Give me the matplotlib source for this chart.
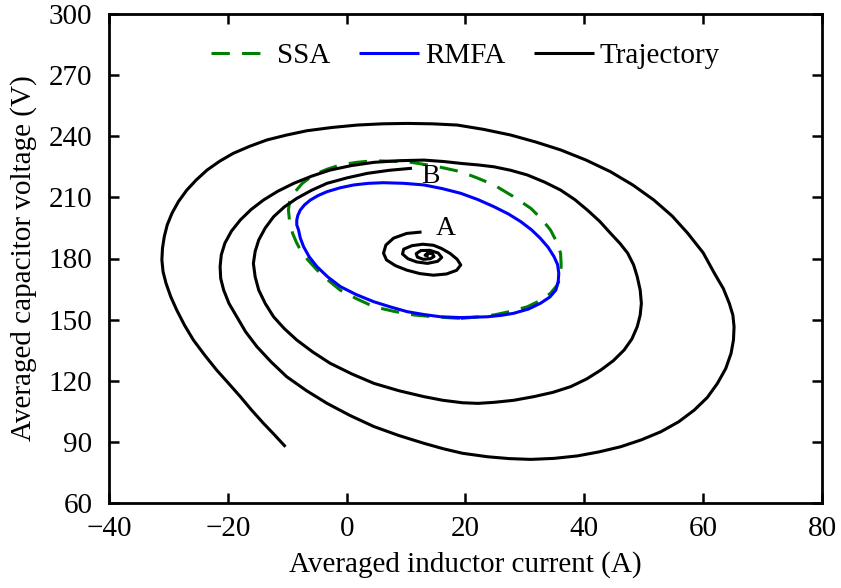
import numpy as np
import matplotlib as mpl
import matplotlib.pyplot as plt

# Trajectory: starts at lower left (-10, 88), spirals inward and ends at point B
traj_x = [-10.3, -12.1, -14.0, -16.0, -17.9, -19.9, -21.9, -23.9, -25.8, -27.3,
          -28.6, -29.6, -30.4, -30.9, -31.1, -31.0, -30.7, -30.2, -29.4, -28.3,
          -26.9, -25.3, -23.5, -21.4, -19.1, -16.3, -13.4, -10.1, -6.7, -2.5,
          1.8, 6.0, 10.2, 14.4, 18.6, 23.0, 27.6, 31.8, 36.0, 40.3,
          44.4, 48.2, 51.7, 54.8, 57.4, 60.0, 61.9, 63.4, 64.4, 65.0,
          65.2, 65.1, 64.7, 63.8, 62.4, 60.7, 58.5, 55.9, 52.9, 49.6,
          46.1, 42.5, 38.8, 34.9, 31.0, 27.3, 23.7, 19.5, 16.3, 13.0,
          8.8, 4.6, 0.6, -3.3, -6.8, -10.1, -12.7, -15.1, -17.0, -18.5,
          -19.8, -20.7, -21.2, -21.3, -21.1, -20.5, -19.4, -17.9, -16.1, -14.0,
          -11.6, -8.9, -5.9, -2.8, 0.8, 4.6, 8.8, 13.0, 16.3, 19.5,
          22.2, 24.8, 27.6, 30.4, 33.3, 36.0, 38.4, 40.5, 42.6, 44.4,
          46.0, 47.3, 48.3, 48.9, 49.4, 49.6, 49.4, 48.9, 48.0, 46.7,
          44.9, 42.8, 40.4, 37.7, 34.7, 31.5, 28.1, 24.8, 22.1, 19.5,
          16.2, 13.0, 8.8, 4.6, 0.9, -2.8, -5.7, -8.4, -10.5, -12.3,
          -13.7, -14.8, -15.4, -15.7, -15.4, -14.8, -13.7, -12.3, -10.5, -8.4,
          -5.9, -3.3, 0.1, 3.5, 7.2, 11.0]
traj_y = [87.6, 93.3, 99.1, 105.6, 112.2, 118.8, 125.3, 132.6, 140.0, 147.3,
          154.7, 161.2, 167.8, 173.5, 179.3, 185.0, 190.7, 196.5, 202.2, 208.0,
          213.6, 218.6, 223.4, 227.7, 231.6, 235.1, 238.2, 240.6, 242.7, 244.3,
          245.5, 246.1, 246.3, 246.1, 245.5, 243.4, 240.6, 237.2, 233.3, 228.3,
          222.6, 216.0, 208.7, 200.8, 192.4, 182.8, 172.7, 165.2, 158.0, 152.2,
          146.5, 140.0, 133.5, 126.0, 118.7, 111.8, 105.6, 99.9, 95.0, 91.0,
          87.6, 85.1, 83.1, 81.9, 81.4, 81.8, 82.7, 84.4, 86.6, 89.3,
          93.1, 97.5, 102.9, 108.9, 115.2, 122.0, 129.2, 136.7, 144.0, 151.4,
          157.9, 164.5, 170.2, 176.0, 181.8, 187.5, 193.4, 198.9, 204.0, 208.7,
          213.0, 216.9, 220.4, 223.4, 225.6, 227.2, 228.0, 228.3, 227.6, 226.6,
          225.9, 225.0, 223.3, 221.0, 217.5, 213.6, 208.9, 203.8, 198.2, 192.4,
          187.4, 182.6, 176.8, 171.1, 164.5, 158.0, 152.2, 146.5, 140.5, 135.1,
          129.9, 125.3, 120.9, 117.1, 114.3, 112.2, 110.4, 109.4, 108.9, 109.2,
          110.4, 112.2, 115.1, 118.7, 123.3, 128.6, 134.1, 140.0, 145.6, 151.4,
          157.9, 164.5, 171.0, 177.6, 183.5, 189.1, 195.0, 200.5, 205.3, 209.5,
          213.5, 216.9, 219.6, 221.8, 223.3, 224.3]

# Small spiral ending at point A
spiral_x = [12.6, 10.1, 7.9, 6.6, 6.2, 6.7, 8.2, 10.1, 12.3, 14.6,
            16.8, 18.5, 19.2, 18.6, 17.4, 15.9, 14.6, 12.8, 11.0, 9.6,
            9.4, 10.3, 11.8, 13.6, 15.3, 16.0, 15.4, 14.0, 12.5, 11.7,
            11.9, 12.9, 14.1, 14.7, 14.4, 13.6, 13.2, 13.8]
spiral_y = [193.0, 192.3, 190.0, 186.6, 182.6, 179.3, 176.5, 174.3, 172.6, 171.8,
            172.4, 174.2, 176.8, 179.6, 182.5, 185.0, 186.5, 187.0, 186.3, 184.6,
            182.2, 179.9, 178.3, 177.6, 178.6, 180.5, 182.7, 184.0, 183.9, 182.4,
            180.7, 179.6, 179.9, 181.0, 182.4, 182.6, 181.6, 181.2]

# SSA orbit (green dashed)
ssa_x = [19.2, 22.0, 24.8, 27.7, 30.4, 32.6, 34.3, 35.4, 36.0, 36.1,
         36.0, 35.3, 34.3, 32.8, 31.0, 28.0, 24.8, 22.0, 19.2, 15.0,
         10.2, 4.6, 1.7, -1.1, -3.4, -5.6, -7.5, -8.9, -9.6, -9.8,
         -9.6, -9.1, -8.5, -7.8, -6.5, -5.0, -3.1, -1.1, 1.7, 4.6,
         7.9, 11.3, 15.0, 19.2]
ssa_y = [150.6, 151.3, 152.3, 154.1, 156.3, 159.4, 162.9, 166.8, 171.1, 176.8,
         182.6, 188.4, 194.0, 199.4, 204.6, 210.5, 216.1, 219.5, 222.6, 225.3,
         227.5, 228.0, 227.2, 225.9, 223.7, 221.0, 216.8, 212.0, 207.9, 203.8,
         198.0, 192.4, 188.2, 184.2, 179.2, 174.4, 169.3, 164.5, 160.2, 156.3,
         154.1, 152.3, 151.3, 150.6]

# RMFA orbit (blue)
rmfa_x = [19.2, 23.7, 26.0, 28.1, 30.6, 32.6, 34.2, 35.2, 35.6, 35.7,
          35.5, 34.9, 33.9, 32.6, 31.1, 29.3, 27.2, 24.8, 22.1, 19.2,
          16.1, 13.0, 9.6, 6.2, 3.7, 1.2, -1.1, -3.3, -4.8, -6.1,
          -7.1, -7.8, -8.2, -8.4, -8.4, -8.1, -7.8, -7.25, -6.3, -5.0,
          -3.2, -1.05, 1.6, 4.55, 7.4, 10.2, 13.0, 15.8, 19.2]
rmfa_y = [151.0, 151.4, 152.1, 153.1, 155.2, 158.0, 161.1, 164.5, 168.5, 172.7,
          177.0, 180.9, 185.5, 189.9, 194.1, 198.1, 201.9, 205.4, 208.9, 212.0,
          214.3, 216.1, 216.9, 217.2, 216.9, 216.1, 214.7, 212.8, 210.9, 208.7,
          206.3, 203.8, 201.3, 198.9, 196.5, 194.0, 190.0, 185.8, 180.8, 176.0,
          171.0, 166.2, 162.3, 158.8, 156.2, 153.9, 152.5, 151.4, 151.0]

x_ticks = [-40, -20, 0, 20, 40, 60, 80]
y_ticks = [60, 90, 120, 150, 180, 210, 240, 270, 300]


def main():
    mpl.rcParams['font.family'] = ['Liberation Serif', 'DejaVu Serif']
    mpl.rcParams['font.size'] = 21
    mpl.rcParams['axes.linewidth'] = 2.0

    fig = plt.figure(figsize=(8.41, 5.88), dpi=100)
    # axes box: x 109..822 px, y 14..503 px
    ax = fig.add_axes([109 / 841, 85 / 588, 713 / 841, 489 / 588])

    kw = dict(lw=2.2, solid_joinstyle='round', solid_capstyle='butt')
    ax.plot(ssa_x, ssa_y, color='green', dashes=(6, 4), label='SSA', **kw)
    ax.plot(rmfa_x, rmfa_y, color='blue', label='RMFA', **kw)
    ax.plot(traj_x, traj_y, color='black', label='Trajectory', **kw)
    ax.plot(spiral_x, spiral_y, color='black', **kw)

    ax.text(14.1, 220.2, 'B', fontsize=20, ha='center', va='center')
    ax.text(16.6, 194.8, 'A', fontsize=20, ha='center', va='center')

    ax.set_xlim(-40, 80)
    ax.set_ylim(60, 300)
    ax.set_xticks(x_ticks)
    ax.set_yticks(y_ticks)
    ax.tick_params(direction='in', top=True, right=True, length=7, width=1.8,
                   labelsize=21)
    ax.tick_params(axis='x', pad=9)
    ax.tick_params(axis='y', pad=12)
    ax.set_xlabel('Averaged inductor current (A)', fontsize=21)
    ax.set_ylabel('Averaged capacitor voltage (V)', fontsize=21)
    ax.xaxis.set_label_coords(0.5, -0.098)
    ax.yaxis.set_label_coords(-0.101, 0.5)

    ax.legend(loc='center', bbox_to_anchor=(0.5, 0.914), ncol=3,
              frameon=False, fontsize=21, handlelength=2.05,
              handletextpad=0.2, columnspacing=1.0, borderpad=0.1)

    fig.savefig('out.png', dpi=100)
    return 0


if __name__ == '__main__':
    main()
